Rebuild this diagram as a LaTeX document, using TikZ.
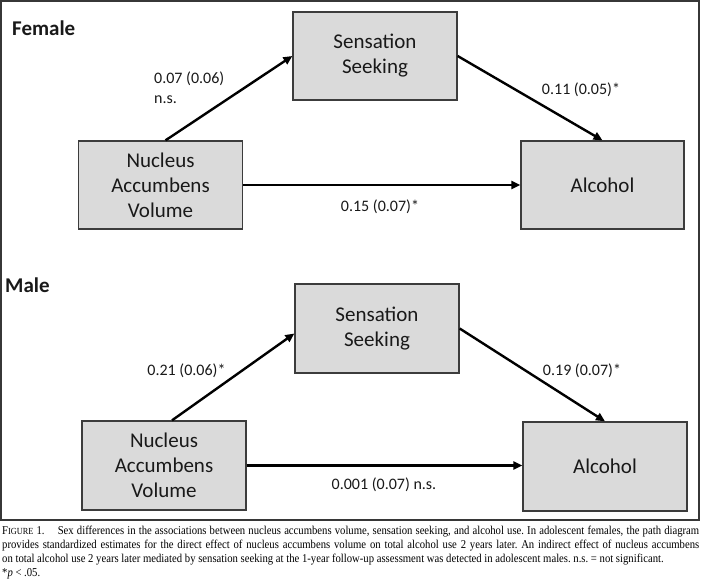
\documentclass[tikz,border=0pt]{standalone}
\usepackage{fontspec}
\setmainfont{Carlito}
\newfontfamily\capfont[FakeStretch=0.89]{Liberation Serif}
\usetikzlibrary{arrows.meta}
\definecolor{boxfill}{RGB}{218,218,218}
\definecolor{boxline}{RGB}{60,60,60}
\definecolor{framecol}{RGB}{55,55,55}
\definecolor{txt}{RGB}{25,25,25}
\begin{document}
\begin{tikzpicture}[x=1pt,y=-1pt,
  box/.style={draw=boxline, line width=1.3pt, fill=boxfill, minimum width=164pt, minimum height=88pt,
    align=center, inner sep=0pt, text=txt, font=\fontsize{21}{25}\selectfont},
  patharrow/.style={line width=2.4pt, -{Triangle[length=9pt,width=8pt]}},
  coef/.style={font=\fontsize{16}{20}\selectfont, inner sep=0pt, text=txt},
  panel/.style={font=\fontsize{21}{25}\selectfont\bfseries, inner sep=0pt, text=txt, anchor=west}]
\useasboundingbox (0,0) rectangle (701,578);
\fill[white] (0,0) rectangle (701,578);
\draw[framecol, line width=1.5pt] (1,1) rectangle (699,520);

% Female panel
\node[panel] (female) at (12,28) {Female};
\node[box] (fss)  at (375,56)    {Sensation\\Seeking};
\node[box] (fnav) at (160.5,185) {Nucleus\\Accumbens\\Volume};
\node[box, minimum width=163pt] (falc) at (602.5,185) {Alcohol};
\draw[patharrow] ([xshift=5pt]fnav.north) -- (fss.west);
\draw[patharrow] (fss.east) -- (falc.north);
\draw[patharrow] (fnav.east) -- (falc.west);
\node[coef, align=left, anchor=west] (fa) at (154,88) {0.07 (0.06)\\n.s.};
\node[coef] (fb) at (581,90) {0.11 (0.05)*};
\node[coef] (fc) at (380,207) {0.15 (0.07)*};

% Male panel
\node[panel] (male) at (5,285) {Male};
\node[box, minimum height=89pt] (mss)  at (377,328.5) {Sensation\\Seeking};
\node[box, minimum height=89pt] (mnav) at (164,465.5) {Nucleus\\Accumbens\\Volume};
\node[box, minimum height=89pt] (malc) at (605,466.5) {Alcohol};
\draw[patharrow] ([xshift=8pt]mnav.north) -- ([yshift=-5pt]mss.west);
\draw[patharrow] (mss.east) -- (malc.north);
\draw[patharrow] (mnav.east) -- (mnav.east -| malc.west);
\node[coef] (ma) at (186.5,371) {0.21 (0.06)*};
\node[coef] (mb) at (582,371) {0.19 (0.07)*};
\node[coef] (mc) at (384,485) {0.001 (0.07) n.s.};

% Caption
\node[anchor=north west, text width=697pt, align=justify, inner sep=0pt,
  font=\capfont\fontsize{12}{14}\selectfont\frenchspacing] (cap) at (2,526)
{\hyphenpenalty=10000\relax\noindent F{\fontsize{9.3}{14}\selectfont IGURE} 1.\hspace{1.1em}Sex differences in the associations between nucleus accumbens volume, sensation seeking, and alcohol use. In adolescent females, the path diagram\linebreak provides standardized estimates for the direct effect of nucleus accumbens volume on total alcohol use 2 years later. An indirect effect of nucleus accumbens\linebreak on total alcohol use 2 years later mediated by sensation seeking at the 1-year follow-up assessment was detected in adolescent males. n.s. = not significant.\par
\noindent{*}\textit{p} < .05.};
\end{tikzpicture}
\end{document}
